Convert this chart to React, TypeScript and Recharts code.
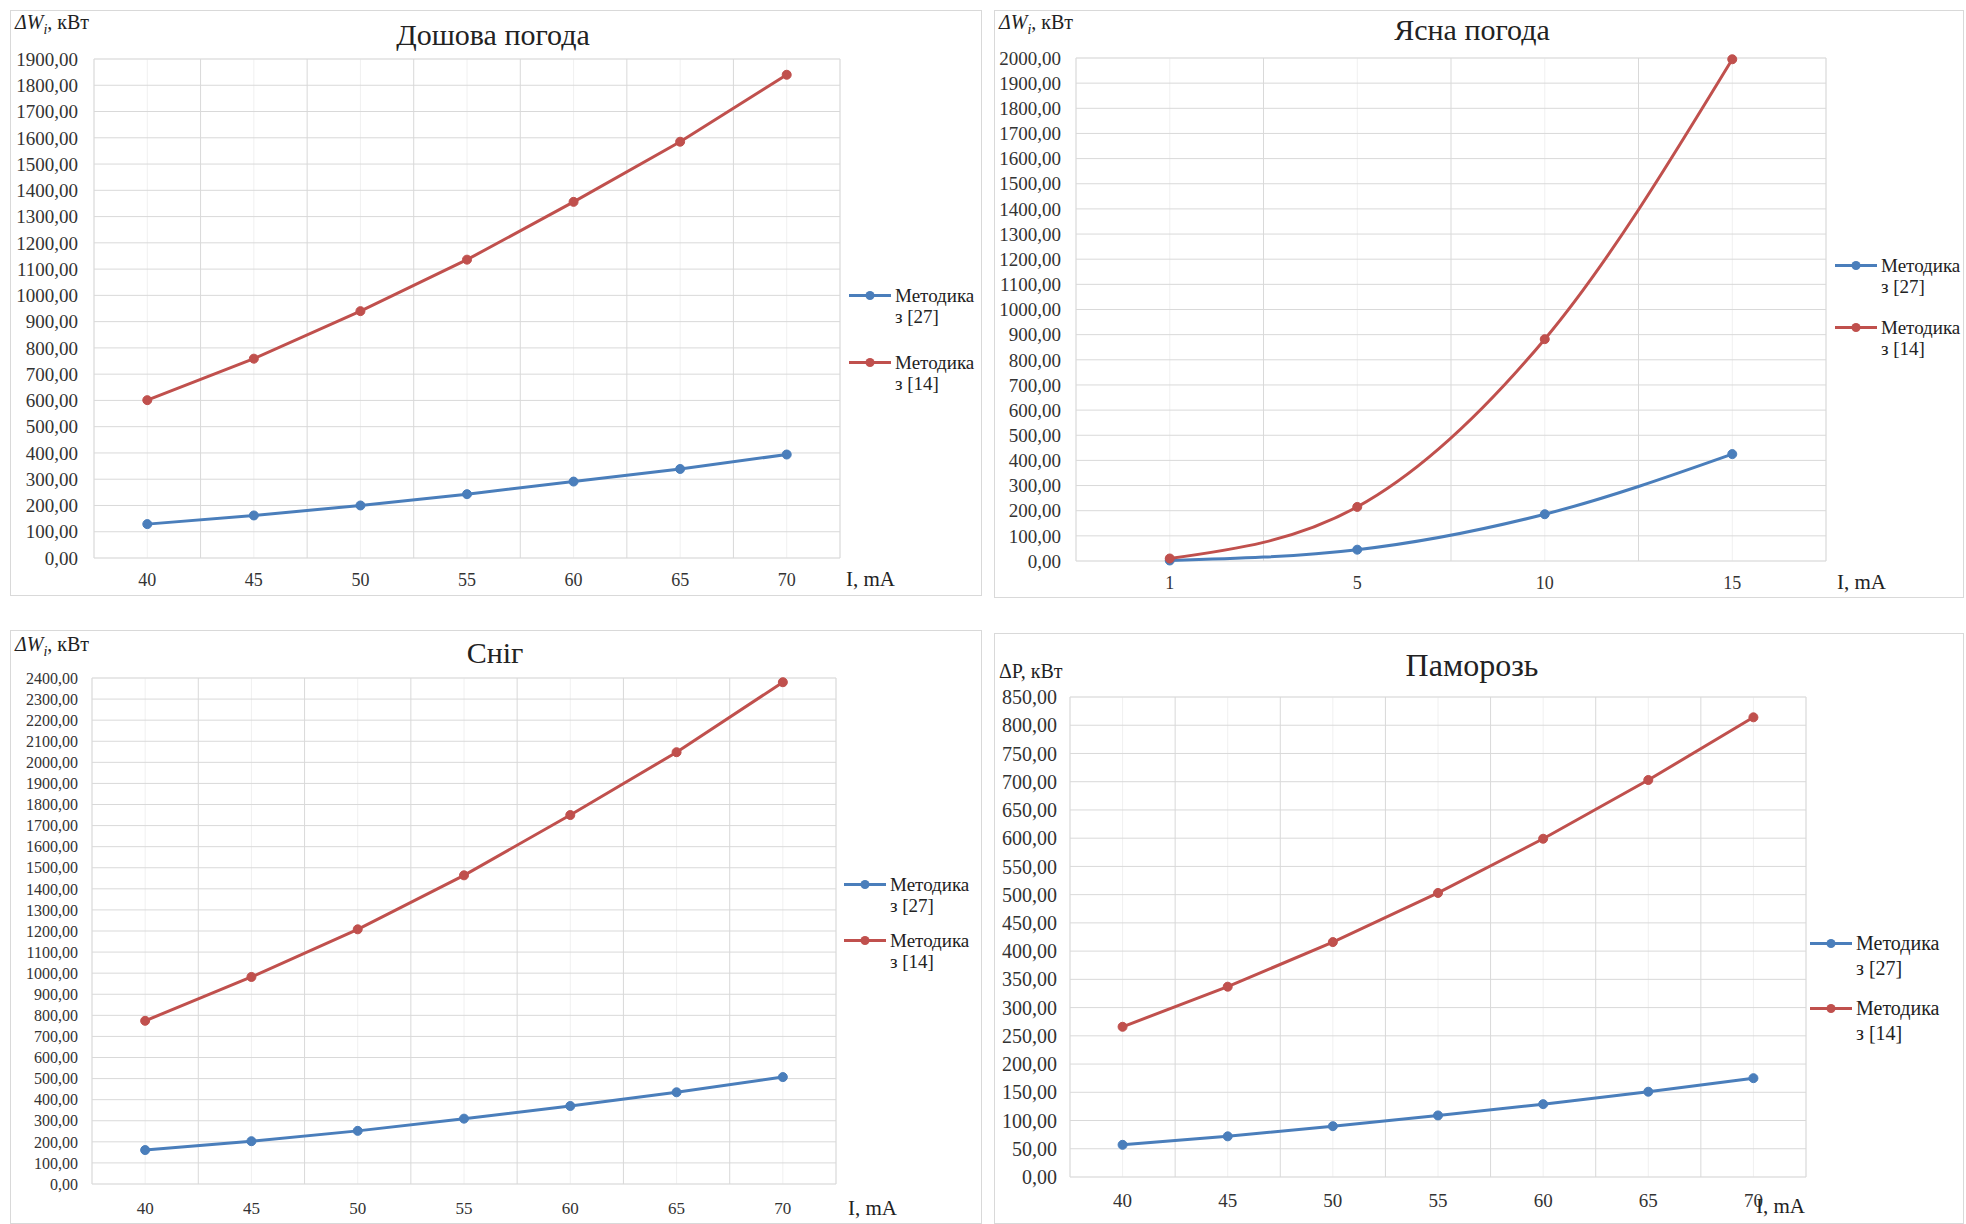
import React from 'react';
import { LineChart, Line, XAxis, YAxis, CartesianGrid, Legend } from 'recharts';

// струм, mA
const currentSteps = ['40', '45', '50', '55', '60', '65', '70'];
const clearCurrents = ['1', '5', '10', '15'];

// Дощова погода
const rainOld = [129, 162, 200, 243, 291, 339, 394];
const rainNew = [601, 759, 940, 1136, 1356, 1585, 1840];
// Ясна погода
const clearOld = [2, 45, 186, 425];
const clearNew = [10, 215, 882, 1995];
// Сніг
const snowOld = [161, 203, 252, 310, 370, 435, 507];
const snowNew = [774, 982, 1208, 1464, 1750, 2048, 2380];
// Паморозь
const frostOld = [57, 72, 90, 109, 129, 151, 175];
const frostNew = [266, 337, 416, 503, 599, 703, 814];

const seriesNames = ['Методика з [27]', 'Методика з [14]'];
const BLUE = '#4a7ebb';
const RED = '#c0504d';
const FONT = '"Liberation Serif", "Times New Roman", serif';

const steps = (max: number, step: number) => {
  const out: number[] = [];
  for (let v = 0; v <= max + 1e-9; v += step) out.push(Math.round(v * 100) / 100);
  return out;
};

const fmt = (v: number) => v.toFixed(2).replace('.', ',');

const WiTitle = () => (
  <span>
    <i>ΔW</i>
    <sub style={{ fontSize: '0.7em', fontStyle: 'italic' }}>i</sub>, кВт
  </span>
);

type PanelProps = {
  frame: { x: number; y: number; w: number; h: number };
  plot: { left: number; right: number; top: number; bottom: number }; // page coords
  categories: string[];
  oldVals: number[];
  newVals: number[];
  yMax: number;
  yStep: number;
  minorStep: number;
  smooth?: boolean;
  title: string;
  titleAt: [number, number];
  titleSize: number;
  yTitle: React.ReactNode;
  yTitleAt: [number, number];
  yTitleSize: number;
  xTitleAt: [number, number];
  xTitleSize: number;
  legendAt: [number, number]; // line start x, blue line y
  legendSize: number;
  legendLine: number;
  legendGap: number;
  yTickSize: number;
  yTickGap: number;
  xTickSize: number;
  xTickGap: number;
};

const Panel: React.FC<PanelProps> = (p) => {
  const { frame } = p;
  const n = p.categories.length;
  const rows = p.categories.map((c, i) => ({ i, label: c, old: p.oldVals[i], fresh: p.newVals[i] }));
  const centers = p.categories.map((_, i) => i);
  const edges = [...centers.map((i) => i - 0.5), n - 0.5];
  const domain: [number, number] = [-0.5, n - 0.5];
  const yWidth = p.plot.left - frame.x;
  const xHeight = 40;
  const margin = {
    top: p.plot.top - frame.y,
    right: frame.x + frame.w - p.plot.right,
    left: 0,
    bottom: frame.y + frame.h - p.plot.bottom - xHeight,
  };
  const lineType = p.smooth ? 'monotone' : 'linear';
  const L = p.legendLine;

  const renderLegend = (props: any) => {
    const items = [...(props.payload || [])].sort(
      (a: any, b: any) => seriesNames.indexOf(a.value) - seriesNames.indexOf(b.value)
    );
    return (
      <div style={{ fontFamily: FONT, fontSize: p.legendSize, color: '#222' }}>
        {items.map((e: any, k: number) => {
          const name = String(e.value);
          const cut = name.indexOf(' ');
          return (
            <div key={k} style={{ display: 'flex', alignItems: 'flex-start', marginBottom: k === 0 ? p.legendGap : 0 }}>
              <svg width={46} height={L} style={{ flex: 'none' }}>
                <line x1={0} x2={42} y1={L / 2} y2={L / 2} stroke={e.color} strokeWidth={3} />
                <circle cx={21} cy={L / 2} r={4.5} fill={e.color} />
              </svg>
              <div style={{ lineHeight: `${L}px`, whiteSpace: 'nowrap' }}>
                <div>{name.slice(0, cut)}</div>
                <div>{name.slice(cut + 1)}</div>
              </div>
            </div>
          );
        })}
      </div>
    );
  };

  const text = (node: React.ReactNode, at: [number, number], size: number, center = false) => (
    <div
      style={{
        position: 'absolute',
        left: at[0] - frame.x,
        top: at[1] - frame.y,
        transform: center ? 'translate(-50%, -50%)' : 'translateY(-50%)',
        fontFamily: FONT,
        fontSize: size,
        whiteSpace: 'nowrap',
        color: '#222',
        lineHeight: 1,
      }}
    >
      {node}
    </div>
  );

  return (
    <div style={{ position: 'absolute', left: frame.x, top: frame.y, width: frame.w, height: frame.h }}>
      <div style={{ position: 'absolute', inset: 0, border: '1px solid #d9d9d9', boxSizing: 'border-box' }} />
      <LineChart width={frame.w} height={frame.h} data={rows} margin={margin}>
        <XAxis xAxisId="minor" type="number" dataKey="i" domain={domain} ticks={centers} hide />
        <XAxis xAxisId="major" type="number" dataKey="i" domain={domain} ticks={edges} hide />
        <YAxis yAxisId="minor" type="number" domain={[0, p.yMax]} ticks={steps(p.yMax, p.minorStep)} hide />
        <CartesianGrid xAxisId="minor" yAxisId="minor" stroke="#f0f0f0" strokeWidth={1} />
        <CartesianGrid xAxisId="major" yAxisId="main" stroke="#d9d9d9" strokeWidth={1} />
        <XAxis
          xAxisId="main"
          type="number"
          dataKey="i"
          domain={domain}
          ticks={centers}
          tickFormatter={(v: number) => p.categories[v] ?? ''}
          axisLine={false}
          tickLine={false}
          height={xHeight}
          tickMargin={p.xTickGap}
          tick={{ fontFamily: FONT, fontSize: p.xTickSize, fill: '#333' }}
          interval={0}
        />
        <YAxis
          yAxisId="main"
          type="number"
          domain={[0, p.yMax]}
          ticks={steps(p.yMax, p.yStep)}
          tickFormatter={fmt}
          axisLine={false}
          tickLine={false}
          width={yWidth}
          tickMargin={p.yTickGap}
          tick={{ fontFamily: FONT, fontSize: p.yTickSize, fill: '#333' }}
          interval={0}
        />
        <Legend
          layout="vertical"
          align="center"
          verticalAlign="middle"
          content={renderLegend}
          wrapperStyle={{ left: p.legendAt[0] - frame.x, top: p.legendAt[1] - frame.y - L / 2, width: 150 }}
        />
        <Line
          xAxisId="main"
          yAxisId="main"
          type={lineType}
          dataKey="old"
          name={seriesNames[0]}
          stroke={BLUE}
          strokeWidth={3}
          dot={{ r: 4.5, fill: BLUE, stroke: BLUE, strokeWidth: 1 }}
          isAnimationActive={false}
        />
        <Line
          xAxisId="main"
          yAxisId="main"
          type={lineType}
          dataKey="fresh"
          name={seriesNames[1]}
          stroke={RED}
          strokeWidth={3}
          dot={{ r: 4.5, fill: RED, stroke: RED, strokeWidth: 1 }}
          isAnimationActive={false}
        />
      </LineChart>
      {text(p.title, p.titleAt, p.titleSize, true)}
      {text(p.yTitle, p.yTitleAt, p.yTitleSize)}
      {text('I, mA', p.xTitleAt, p.xTitleSize)}
    </div>
  );
};

export default function App() {
  return (
    <div style={{ position: 'absolute', left: 0, top: 0, width: 1966, height: 1224, background: '#fff', overflow: 'hidden' }}>
      <Panel
        frame={{ x: 10, y: 10, w: 972, h: 586 }}
        plot={{ left: 94, right: 840, top: 59, bottom: 558 }}
        categories={currentSteps}
        oldVals={rainOld}
        newVals={rainNew}
        yMax={1900}
        yStep={100}
        minorStep={50}
        title="Дошова погода"
        titleAt={[493, 35]}
        titleSize={30}
        yTitle={<WiTitle />}
        yTitleAt={[15, 24]}
        yTitleSize={20}
        xTitleAt={[846, 579]}
        xTitleSize={21}
        legendAt={[849, 295]}
        legendSize={19}
        legendLine={21}
        legendGap={25}
        yTickSize={19}
        yTickGap={10}
        xTickSize={18}
        xTickGap={9}
      />
      <Panel
        frame={{ x: 994, y: 10, w: 970, h: 588 }}
        plot={{ left: 1076, right: 1826, top: 58, bottom: 561 }}
        categories={clearCurrents}
        oldVals={clearOld}
        newVals={clearNew}
        yMax={2000}
        yStep={100}
        minorStep={50}
        smooth
        title="Ясна погода"
        titleAt={[1472, 30]}
        titleSize={30}
        yTitle={<WiTitle />}
        yTitleAt={[999, 24]}
        yTitleSize={20}
        xTitleAt={[1837, 582]}
        xTitleSize={21}
        legendAt={[1835, 265]}
        legendSize={19}
        legendLine={21}
        legendGap={20}
        yTickSize={19}
        yTickGap={9}
        xTickSize={18}
        xTickGap={9}
      />
      <Panel
        frame={{ x: 10, y: 630, w: 972, h: 594 }}
        plot={{ left: 92, right: 836, top: 678, bottom: 1184 }}
        categories={currentSteps}
        oldVals={snowOld}
        newVals={snowNew}
        yMax={2400}
        yStep={100}
        minorStep={50}
        title="Сніг"
        titleAt={[495, 653]}
        titleSize={30}
        yTitle={<WiTitle />}
        yTitleAt={[15, 646]}
        yTitleSize={20}
        xTitleAt={[848, 1208]}
        xTitleSize={21}
        legendAt={[844, 884]}
        legendSize={19}
        legendLine={21}
        legendGap={14}
        yTickSize={16}
        yTickGap={8}
        xTickSize={17}
        xTickGap={12}
      />
      <Panel
        frame={{ x: 994, y: 633, w: 970, h: 591 }}
        plot={{ left: 1070, right: 1806, top: 697, bottom: 1177 }}
        categories={currentSteps}
        oldVals={frostOld}
        newVals={frostNew}
        yMax={850}
        yStep={50}
        minorStep={10}
        title="Паморозь"
        titleAt={[1472, 665]}
        titleSize={32}
        yTitle="ΔP, кВт"
        yTitleAt={[999, 671]}
        yTitleSize={20}
        xTitleAt={[1756, 1206]}
        xTitleSize={21}
        legendAt={[1810, 943]}
        legendSize={20}
        legendLine={25}
        legendGap={15}
        yTickSize={20}
        yTickGap={7}
        xTickSize={19}
        xTickGap={11}
      />
    </div>
  );
}
